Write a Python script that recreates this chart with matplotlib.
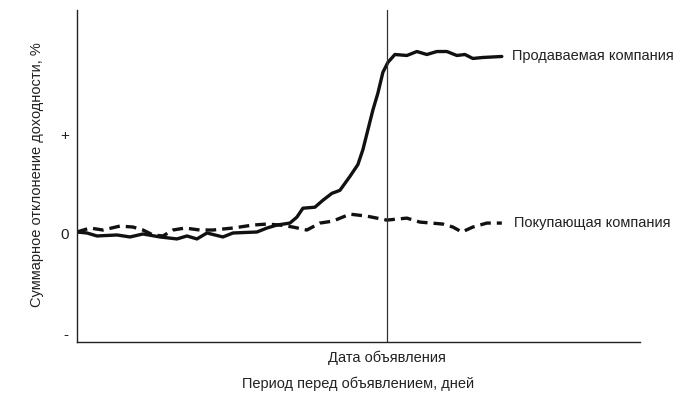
import matplotlib
matplotlib.use("Agg")
import matplotlib.pyplot as plt

# days relative to announcement (0 = announcement date)
target_days = [-31, -30, -29, -27, -25.7, -24.4, -22.7, -21, -20, -19, -18, -16.4, -15.4,
               -13, -12, -11, -9.7, -9, -8.4, -7.2, -6.4, -5.5, -4.7, -3.7, -2.9, -2.4,
               -1.9, -1.4, -0.9, -0.4, 0.1, 0.8, 2, 3, 4, 5, 6, 7, 7.8, 8.6, 9.6, 11.5]
target_car = [0.02, 0.01, -0.02, -0.01, -0.03, 0.0, -0.03, -0.05, -0.02, -0.05, 0.01, -0.03, 0.01,
              0.02, 0.06, 0.09, 0.11, 0.17, 0.26, 0.27, 0.34, 0.41, 0.44, 0.58, 0.70, 0.85,
              1.05, 1.25, 1.42, 1.63, 1.73, 1.81, 1.80, 1.84, 1.81, 1.84, 1.84, 1.80, 1.81, 1.77, 1.78, 1.79]

bidder_days = [-31, -29.7, -28.4, -26.7, -25.4, -24.4, -23.4, -22.4, -21.4, -20.2, -18.7, -17.4,
               -15.4, -13.4, -12, -10.7, -9.4, -8, -6.7, -5.4, -3.7, -2, 0, 2, 3.3, 5.6, 6.6,
               7.5, 8.6, 10, 11.5]
bidder_car = [0.02, 0.06, 0.04, 0.08, 0.07, 0.04, -0.01, -0.02, 0.04, 0.06, 0.04, 0.04,
              0.06, 0.09, 0.10, 0.09, 0.07, 0.04, 0.11, 0.13, 0.20, 0.18, 0.14, 0.16, 0.12, 0.10, 0.07,
              0.02, 0.07, 0.11, 0.11]

ytick_vals = [-1, 0, 1]
ytick_labels = ["-", "0", "+"]

plt.rcParams["font.family"] = ["Liberation Sans", "DejaVu Sans"]
FS = 10.5
INK = "#222222"

fig = plt.figure(figsize=(6.85, 3.95), dpi=100)
ax = fig.add_axes([0.1124, 0.134, 0.934 - 0.1124, 0.975 - 0.134])

ax.plot(target_days, target_car, color="#111111", lw=2.4, solid_joinstyle="round",
        solid_capstyle="round")
ax.plot(bidder_days, bidder_car, color="#111111", lw=2.4, dashes=(3.2, 1.8))
ax.axvline(0, color="#333333", lw=0.9)

ax.set_xlim(-31, 25.3)
ax.set_ylim(-1.09, 2.26)

ax.spines["top"].set_visible(False)
ax.spines["right"].set_visible(False)
for s in ("left", "bottom"):
    ax.spines[s].set_linewidth(1.0)
    ax.spines[s].set_color(INK)

ax.set_yticks(ytick_vals)
ax.set_yticklabels(ytick_labels, fontsize=11)
ax.tick_params(axis="y", length=0, pad=6, colors=INK)
ax.set_xticks([0])
ax.set_xticklabels(["Дата объявления"], fontsize=FS)
ax.tick_params(axis="x", length=0, pad=6, colors=INK)

ax.set_xlabel("Период перед объявлением, дней", fontsize=FS, color=INK)
ax.set_ylabel("Суммарное отклонение доходности, %", fontsize=FS, color=INK)
ax.xaxis.set_label_coords((358 - 77) / (640 - 77), -0.105)
ax.yaxis.set_label_coords(-0.059, (395 - 175 - 53) / (342 - 10))

ax.text(12.5, target_car[-1], "Продаваемая компания", fontsize=FS, va="center", color=INK)
ax.text(12.7, bidder_car[-1], "Покупающая компания", fontsize=FS, va="center", color=INK)

fig.savefig("out.png", dpi=100)
